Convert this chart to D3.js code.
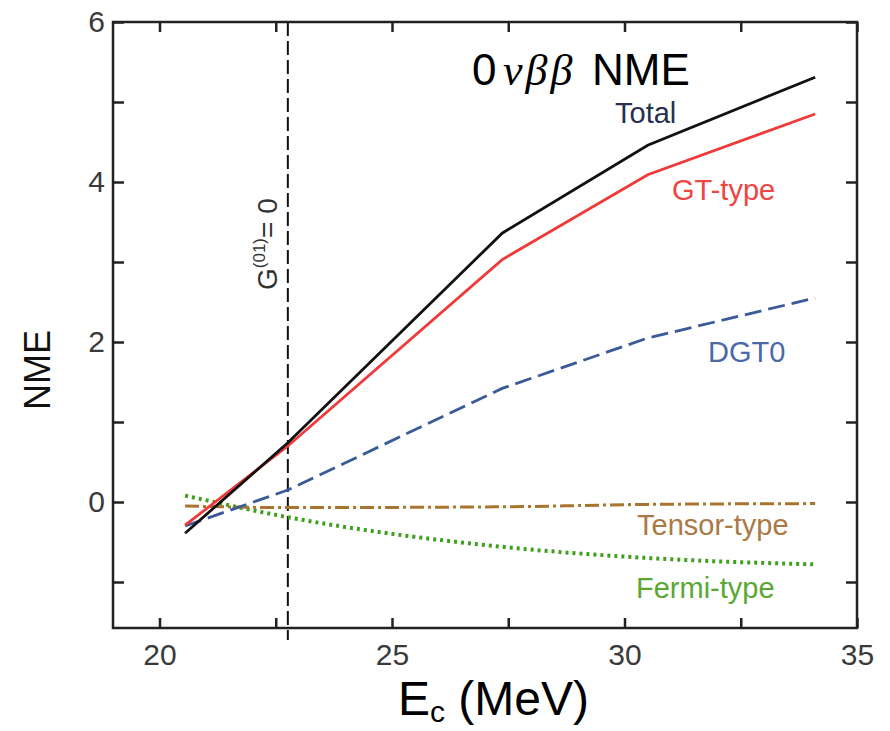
<!DOCTYPE html>
<html lang="en">
<head>
    <meta charset="UTF-8">
    <title>0vbb NME</title>
    <script src="https://d3js.org/d3.v7.min.js"></script>
    <style>
        body{ margin:0; background:#fff; }
        text{ font-family: "Liberation Sans", Arial, sans-serif; }
        .tick text{ fill:#3a3a3a; font-size:30px; }
    </style>
</head>
<body>
<svg id="main" width="890" height="731"></svg>

<script>
    // excitation energy Ec (MeV) where the curves were sampled
    let energy = [20.55, 22.76, 27.37, 30.5, 34.1]
    let total  = [-0.39, 0.74, 3.36, 4.46, 5.31]
    let gt     = [-0.29, 0.70, 3.03, 4.09, 4.85]
    let dgt0   = [-0.30, 0.15, 1.42, 2.05, 2.55]
    let tensor = [-0.05, -0.07, -0.06, -0.03, -0.02]
    let fermi  = [0.08, -0.19, -0.56, -0.70, -0.78]
    let g01zero = 22.76

    let xTicks = [20, 22.5, 25, 27.5, 30, 32.5, 35]
    let yTicks = [-1, 0, 1, 2, 3, 4, 5, 6]

    let svg = d3.select("#main")
    let x0 = 113, x1 = 857, y0 = 22, y1 = 628

    let x = d3.scaleLinear().domain([19, 35]).range([x0, x1])
    let y = d3.scaleLinear().domain([-1.575, 6]).range([y1, y0])

    // axes, ticks pointing inward
    svg.append("g")
        .attr("transform", `translate(0,${y1})`)
        .call(d3.axisBottom(x).tickValues(xTicks).tickSize(-10).tickPadding(16)
            .tickFormat(d => d % 5 === 0 ? d : ""))
    svg.append("g")
        .attr("transform", `translate(0,${y0})`)
        .call(d3.axisTop(x).tickValues(xTicks).tickSize(-10).tickFormat(""))
    svg.append("g")
        .attr("transform", `translate(${x0},0)`)
        .call(d3.axisLeft(y).tickValues(yTicks).tickSize(-11).tickPadding(8)
            .tickFormat(d => d % 2 === 0 ? d : ""))
    svg.append("g")
        .attr("transform", `translate(${x1},0)`)
        .call(d3.axisRight(y).tickValues(yTicks).tickSize(-11).tickFormat(""))

    svg.selectAll(".domain").remove()
    svg.selectAll(".tick line").attr("stroke", "#222").attr("stroke-width", 2.5)

    svg.append("rect")
        .attr("x", x0).attr("y", y0)
        .attr("width", x1 - x0).attr("height", y1 - y0)
        .attr("fill", "none").attr("stroke", "#222").attr("stroke-width", 2.5)

    // G(01) = 0 marker
    svg.append("line")
        .attr("x1", x(g01zero)).attr("x2", x(g01zero))
        .attr("y1", y0).attr("y2", y1 + 12)
        .attr("stroke", "#111").attr("stroke-width", 2)
        .attr("stroke-dasharray", "14,5")

    let gLab = svg.append("text")
        .attr("transform", `translate(${x(g01zero) - 11},290) rotate(-90)`)
        .attr("font-size", 28).attr("fill", "#333")
    gLab.append("tspan").text("G")
    gLab.append("tspan").attr("font-size", 17).attr("dy", -12).text("(01)")
    gLab.append("tspan").attr("dy", 12).text("= 0")

    // curves
    function draw(vals, color, width, dash, curve){
        let line = d3.line()
            .x((d, i) => x(energy[i]))
            .y(d => y(d))
            .curve(curve || d3.curveLinear)
        svg.append("path")
            .datum(vals)
            .attr("d", line)
            .attr("fill", "none")
            .attr("stroke", color)
            .attr("stroke-width", width)
            .attr("stroke-dasharray", dash)
    }
    draw(fermi, "#3f9f1f", 4, "3,4", d3.curveMonotoneX)
    draw(tensor, "#a8742e", 3, "14,4,3,4", d3.curveMonotoneX)
    draw(dgt0, "#3a5a98", 2.8, "17,7")
    draw(gt, "#f03a3a", 2.8, null)
    draw(total, "#111", 2.8, null)

    // curve labels
    let labels = [
        {t: "Total", x: 615, y: 123, c: "#27304e"},
        {t: "GT-type", x: 672, y: 200, c: "#ee4545"},
        {t: "DGT0", x: 708, y: 362, c: "#4a69a6"},
        {t: "Tensor-type", x: 637, y: 535, c: "#a97a45"},
        {t: "Fermi-type", x: 636, y: 598, c: "#5aa833"}
    ]
    svg.selectAll(".lab").data(labels).join("text")
        .attr("class", "lab")
        .attr("x", d => d.x).attr("y", d => d.y)
        .attr("font-size", 29)
        .attr("fill", d => d.c)
        .text(d => d.t)

    // title
    let title = svg.append("text").attr("y", 85).attr("font-size", 44).attr("fill", "#000")
    title.append("tspan").attr("x", 472).text("0")
    title.append("tspan").attr("x", 503)
        .style("font-family", "'Liberation Serif', 'Times New Roman', serif")
        .attr("font-style", "italic").attr("letter-spacing", 3).text("νββ")
    title.append("tspan").attr("x", 592).text("NME")

    // axis titles
    svg.append("text")
        .attr("transform", "translate(50,370) rotate(-90)")
        .attr("text-anchor", "middle")
        .attr("font-size", 36).attr("fill", "#111")
        .text("NME")

    let xt = svg.append("text")
        .attr("x", 398).attr("y", 715)
        .attr("font-size", 48).attr("fill", "#000")
    xt.append("tspan").text("E")
    xt.append("tspan").attr("font-size", 30).attr("dy", 7).text("c")
    xt.append("tspan").attr("dy", -7).text(" (MeV)")
</script>
</body>
</html>
